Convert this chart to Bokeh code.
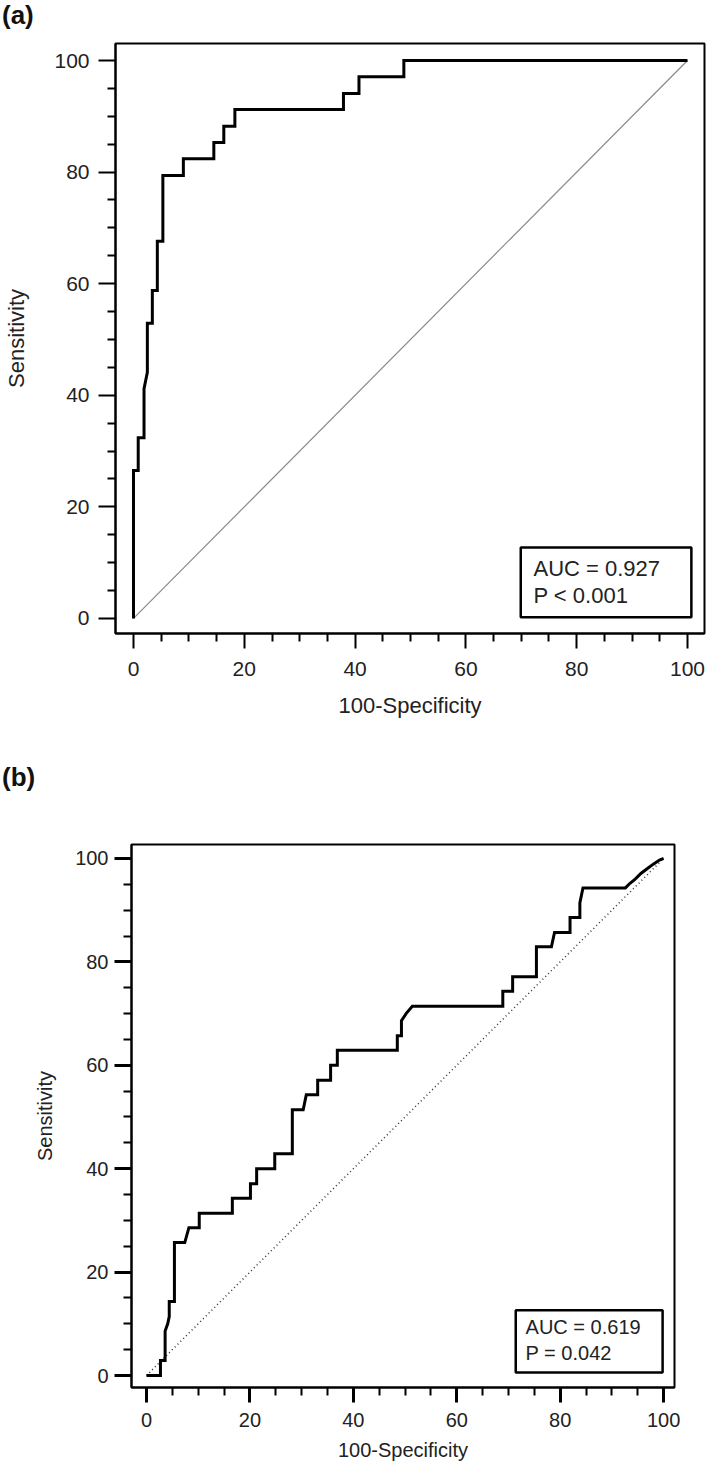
from bokeh.plotting import figure
from bokeh.models import Range1d, FixedTicker, BoxAnnotation, Label, Div
from bokeh.embed import file_html
from bokeh.resources import INLINE

FONT = "Liberation Sans"

# ---------------- data ----------------
# Panel (a): ROC curve (100-Specificity, Sensitivity)
a_fpr = [0, 0, 0.85, 0.85, 1.9, 1.9, 2.5, 2.5, 3.4, 3.4, 4.3, 4.3, 5.3, 5.3,
         9.0, 9.0, 14.5, 14.5, 16.3, 16.3, 18.3, 18.3, 37.9, 37.9, 40.7, 40.7,
         48.8, 48.8, 100]
a_sens = [0, 26.5, 26.5, 32.4, 32.4, 41.2, 44.1, 52.9, 52.9, 58.8, 58.8, 67.6,
          67.6, 79.4, 79.4, 82.4, 82.4, 85.3, 85.3, 88.2, 88.2, 91.2, 91.2,
          94.1, 94.1, 97.1, 97.1, 100, 100]
a_text = ["AUC = 0.927", "P < 0.001"]

# Panel (b)
b_fpr = [0, 2.7, 2.7, 3.6, 3.6, 4.1, 4.4, 4.4, 5.4, 5.4, 7.4, 8.2, 10.2, 10.2,
         16.6, 16.6, 20.1, 20.1, 21.3, 21.3, 24.8, 24.8, 28.2, 28.2, 30.3, 30.9,
         33.1, 33.1, 35.6, 35.6, 36.9, 36.9, 48.5, 48.5, 49.3, 49.3, 50.2, 51.4,
         68.9, 68.9, 70.8, 70.8, 75.4, 75.4, 78.3, 78.9, 81.9, 81.9, 83.8, 83.8,
         84.4, 92.6, 93.5, 94.5, 95.6, 96.8, 98.0, 99.2, 100]
b_sens = [0, 0, 2.9, 2.9, 8.6, 10.0, 11.4, 14.3, 14.3, 25.7, 25.7, 28.6, 28.6,
          31.4, 31.4, 34.3, 34.3, 37.1, 37.1, 40.0, 40.0, 42.9, 42.9, 51.4, 51.4,
          54.3, 54.3, 57.1, 57.1, 60.0, 60.0, 62.9, 62.9, 65.7, 65.7, 68.6, 70.0,
          71.4, 71.4, 74.3, 74.3, 77.1, 77.1, 82.9, 82.9, 85.7, 85.7, 88.6, 88.6,
          91.4, 94.3, 94.3, 95.2, 96.0, 97.1, 98.0, 98.9, 99.7, 100]
b_text = ["AUC = 0.619", "P = 0.042"]

panel_letters = ["(a)", "(b)"]
major_ticks = [0, 20, 40, 60, 80, 100]
minor_ticks = [5, 10, 15, 25, 30, 35, 45, 50, 55, 65, 70, 75, 85, 90, 95]
x_title = "100-Specificity"
y_title = "Sensitivity"


def make_letter(letter, height):
    html = ('<div style="font-family:\'Liberation Sans\',Arial,sans-serif;'
            'font-size:26px;font-weight:bold;color:#111111;line-height:30px;'
            'padding-left:2px;margin:0;">' + letter + '</div>')
    return Div(text=html, width=709, height=height, margin=0)


def make_panel(fpr, sens, texts, cfg):
    p = figure(
        frame_width=cfg["fw"], frame_height=cfg["fh"],
        x_range=Range1d(*cfg["xr"]), y_range=Range1d(*cfg["yr"]),
        min_border_left=cfg["bl"], min_border_right=cfg["br"],
        min_border_top=cfg["bt"], min_border_bottom=cfg["bb"],
        output_backend="svg", toolbar_location=None,
    )
    p.background_fill_color = "white"
    p.border_fill_color = "white"
    p.outline_line_color = "black"
    p.outline_line_width = 2
    p.xgrid.visible = False
    p.ygrid.visible = False

    for ax, ttl in ((p.xaxis[0], x_title), (p.yaxis[0], y_title)):
        ax.ticker = FixedTicker(ticks=major_ticks, minor_ticks=minor_ticks)
        ax.axis_label = ttl
        ax.axis_label_text_font = FONT
        ax.axis_label_text_font_size = cfg["lab_fs"]
        ax.axis_label_text_font_style = "normal"
        ax.axis_label_text_color = "#222222"
        ax.major_label_text_font = FONT
        ax.major_label_text_font_size = cfg["tick_fs"]
        ax.major_label_text_color = "#222222"
        ax.axis_line_color = "black"
        ax.axis_line_width = 2
        ax.major_tick_in = 0
        ax.minor_tick_in = 0
        ax.major_tick_line_color = "black"
        ax.minor_tick_line_color = "black"
        ax.major_tick_line_width = cfg["major_w"]
        ax.minor_tick_line_width = cfg["minor_w"]
        ax.minor_tick_out = 8
    p.xaxis.major_tick_out = 15
    p.yaxis.major_tick_out = 17
    p.xaxis.major_label_standoff = cfg["x_ls"]
    p.yaxis.major_label_standoff = cfg["y_ls"]
    p.xaxis.axis_label_standoff = cfg["x_ts"]
    p.yaxis.axis_label_standoff = cfg["y_ts"]

    # diagonal reference
    p.line([0, 100], [0, 100], line_color=cfg["diag_color"],
           line_width=cfg["diag_w"], line_dash=cfg["diag_dash"])
    # ROC curve
    p.line(fpr, sens, line_color="black", line_width=3, line_join="miter")

    l, r, b, t = cfg["box"]
    p.add_layout(BoxAnnotation(left=l, right=r, bottom=b, top=t,
                               fill_color="white", fill_alpha=1.0,
                               line_color="black", line_width=2.5, line_alpha=1.0))
    for txt, yy in zip(texts, cfg["text_y"]):
        p.add_layout(Label(x=cfg["text_x"], y=yy, text=txt,
                           text_font=FONT, text_font_size=cfg["box_fs"],
                           text_baseline="middle", text_align="left",
                           text_color="#222222"))
    return p


cfg_a = dict(
    fw=589, fh=590, xr=(-3.25, 103.07), yr=(-2.7, 103.05),
    bl=115, br=5, bt=3, bb=129,
    lab_fs="22px", tick_fs="21px", box_fs="22px",
    major_w=2, minor_w=2,
    x_ls=13, y_ls=9, x_ts=14, y_ts=22,
    diag_color="#8a8a8a", diag_w=1.2, diag_dash="solid",
    box=(69.9, 100.7, 0.2, 12.7), text_x=72.2, text_y=(9.0, 4.1),
)

cfg_b = dict(
    fw=543, fh=543, xr=(-2.9, 102.1), yr=(-2.32, 102.7),
    bl=131, br=35, bt=3, bb=79,
    lab_fs="20px", tick_fs="20px", box_fs="20px",
    major_w=3, minor_w=2,
    x_ls=10, y_ls=6, x_ts=9, y_ts=16,
    diag_color="#333333", diag_w=1.5, diag_dash="1 3",
    box=(71.4, 99.8, 0.6, 12.6), text_x=73.3, text_y=(9.3, 4.4),
)

la = make_letter(panel_letters[0], 40)
pa = make_panel(a_fpr, a_sens, a_text, cfg_a)
lb = make_letter(panel_letters[1], 79)
pb = make_panel(b_fpr, b_sens, b_text, cfg_b)

# separate roots so that the two frames are not aligned with each other
open("out.html", "w").write(file_html([la, pa, lb, pb], INLINE))
